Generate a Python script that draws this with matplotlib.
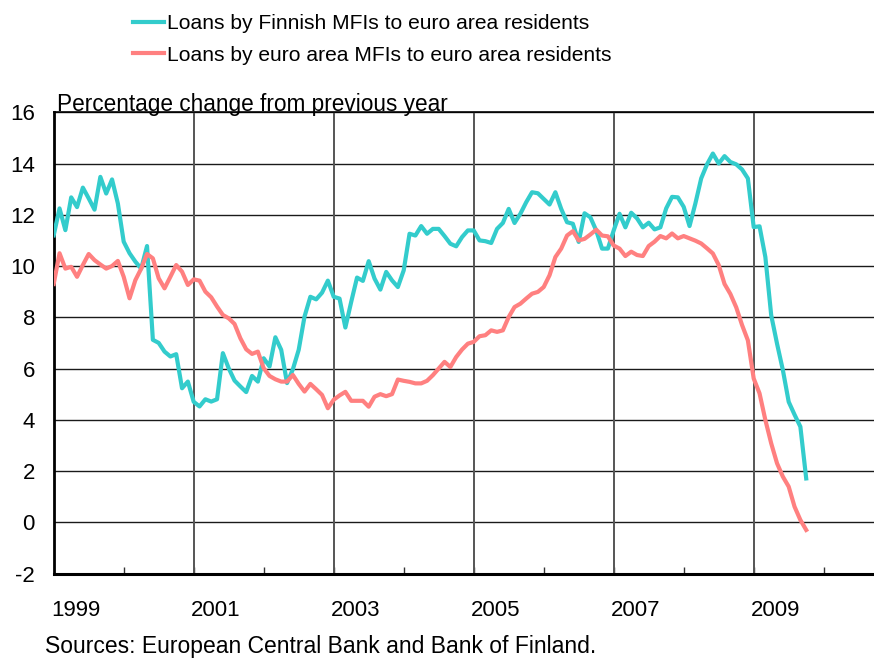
import numpy as np
import matplotlib
matplotlib.use("Agg")
import matplotlib.pyplot as plt
import matplotlib.transforms as mtransforms

plt.rcParams['font.family'] = ['Liberation Sans', 'DejaVu Sans']
plt.rcParams['axes.unicode_minus'] = False

# Monthly series, Jan 1999 onwards (% change from previous year)
finnish_mfi = [
    11.2, 12.25, 11.4, 12.68, 12.3, 13.06, 12.64, 12.2, 13.48, 12.83, 13.38, 12.44,
    10.95, 10.5, 10.17, 9.9, 10.78, 7.12, 7.0, 6.66, 6.47, 6.56, 5.23, 5.49,
    4.7, 4.52, 4.8, 4.71, 4.8, 6.6, 6.01, 5.53, 5.3, 5.08, 5.71, 5.49,
    6.4, 6.08, 7.22, 6.73, 5.43, 5.97, 6.73, 8.03, 8.8, 8.7, 8.96, 9.43,
    8.8, 8.73, 7.6, 8.6, 9.55, 9.42, 10.19, 9.51, 9.08, 9.77, 9.44, 9.18,
    9.83, 11.26, 11.19, 11.56, 11.26, 11.45, 11.45, 11.17, 10.87, 10.77, 11.13, 11.39,
    11.39, 11.0, 10.97, 10.9, 11.45, 11.68, 12.23, 11.68, 12.04, 12.49, 12.88, 12.84,
    12.62, 12.4, 12.88, 12.23, 11.71, 11.65, 10.94, 12.06, 11.9, 11.39, 10.68, 10.68,
    11.39, 12.04, 11.51, 12.08, 11.86, 11.51, 11.69, 11.43, 11.51, 12.25, 12.7, 12.68,
    12.31, 11.56, 12.44, 13.42, 13.97, 14.39, 14.0, 14.29, 14.06, 13.97, 13.77, 13.42,
    11.52, 11.55, 10.35, 8.08, 6.97, 5.94, 4.7, 4.2, 3.73, 1.71,
]
euro_area_mfi = [
    9.3, 10.5, 9.9, 9.97, 9.58, 10.04, 10.47, 10.23, 10.06, 9.9, 10.0, 10.2,
    9.58, 8.74, 9.45, 9.9, 10.47, 10.3, 9.52, 9.13, 9.58, 10.04, 9.78, 9.26,
    9.48, 9.43, 9.0, 8.78, 8.42, 8.09, 7.96, 7.74, 7.18, 6.75, 6.57, 6.66,
    6.01, 5.71, 5.58, 5.49, 5.49, 5.75, 5.4, 5.1, 5.4, 5.19, 4.97, 4.45,
    4.78, 4.95, 5.09, 4.74, 4.74, 4.74, 4.51, 4.9, 5.0, 4.92, 5.0, 5.57,
    5.52, 5.48, 5.42, 5.42, 5.52, 5.74, 6.0, 6.26, 6.06, 6.45, 6.74, 6.97,
    7.04, 7.26, 7.3, 7.49, 7.43, 7.49, 8.01, 8.4, 8.53, 8.73, 8.92, 8.99,
    9.18, 9.64, 10.35, 10.68, 11.19, 11.36, 11.0, 11.06, 11.23, 11.42, 11.19, 11.16,
    10.8, 10.68, 10.39, 10.56, 10.43, 10.39, 10.78, 10.95, 11.17, 11.08, 11.27, 11.08,
    11.17, 11.08, 10.99, 10.88, 10.69, 10.49, 10.04, 9.3, 8.91, 8.39, 7.7, 7.1,
    5.61, 5.03, 3.99, 3.08, 2.3, 1.78, 1.39, 0.61, 0.09, -0.3,
]
labels = ["Loans by Finnish MFIs to euro area residents",
          "Loans by euro area MFIs to euro area residents"]
year_labels = ["1999", "2001", "2003", "2005", "2007", "2009"]

TEAL = '#33CCCC'
SALMON = '#FF8080'
FS = 16

x = 1999 + np.arange(len(finnish_mfi)) / 12.0

W, H = 874, 661
fig = plt.figure(figsize=(W / 100, H / 100), dpi=100)
left_px, top_px, bottom_px = 53.7, 112.3, 573.5
ax = fig.add_axes([left_px / W, (H - bottom_px) / H, (W - left_px) / W, (bottom_px - top_px) / H])

l1, = ax.plot(x, finnish_mfi, color=TEAL, lw=3.0, solid_joinstyle='round', zorder=3)
l2, = ax.plot(x, euro_area_mfi, color=SALMON, lw=3.0, solid_joinstyle='round', zorder=3)

ax.set_xlim(1999, 1999 + (W - left_px) / 70.0)
ax.set_ylim(-2, 16)
ax.set_yticks(np.arange(-2, 17, 2))
ax.grid(axis='y', color='#1a1a1a', lw=1.0)
ax.set_axisbelow(True)
for yr in range(2001, 2011, 2):
    ax.axvline(yr, color='#555555', lw=1.4, zorder=1)

ax.set_xticks(np.arange(2000, 2011))
ax.set_xticklabels([])
ax.tick_params(axis='x', direction='in', length=5, width=1, color='#333333')
ax.tick_params(axis='y', length=0, pad=13.5, labelsize=FS)

trans = mtransforms.blended_transform_factory(ax.transData, ax.transAxes)
for lab in year_labels:
    ax.text(int(lab) + 0.31, -0.08, lab, transform=trans, ha='center', va='center', fontsize=FS)

ax.spines['right'].set_visible(False)
ax.spines['top'].set_linewidth(1.2)
ax.spines['left'].set_linewidth(2.0)
ax.spines['bottom'].set_linewidth(2.2)

ax.text(0.004, 1.003, "Percentage change from previous year", transform=ax.transAxes,
        ha='left', va='baseline', fontsize=16.3)

fig.legend([l1, l2], labels, loc='upper left', bbox_to_anchor=(133 / W, 1 - 14 / H),
           frameon=False, fontsize=15.1, handlelength=1.5, handletextpad=0.1,
           borderaxespad=0, borderpad=0, labelspacing=0.6)

fig.text(45 / W, 1 - 647 / H, "Sources: European Central Bank and Bank of Finland.",
         ha='left', va='center', fontsize=16.5)

fig.savefig("out.png", dpi=100)
